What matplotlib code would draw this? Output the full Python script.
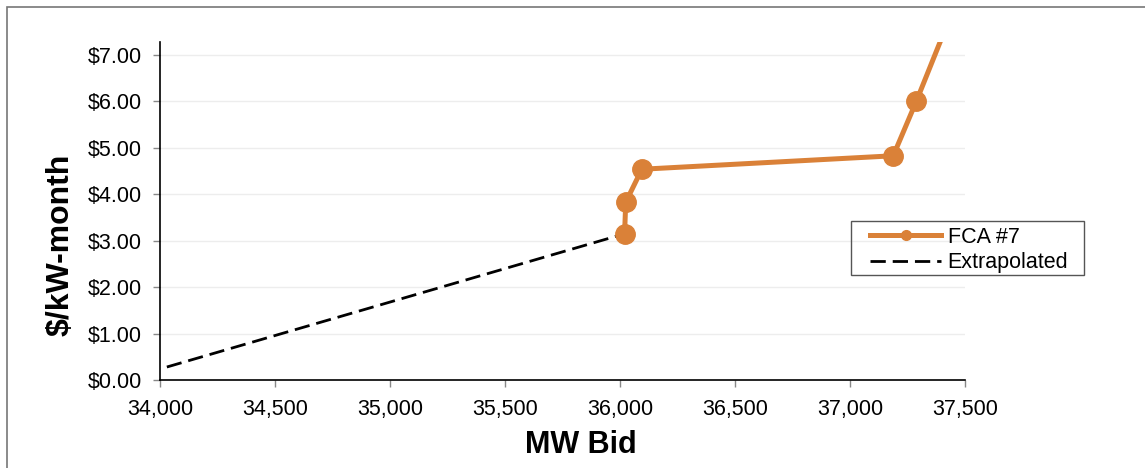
import numpy as np
import matplotlib.pyplot as plt
from matplotlib.patches import Rectangle
from matplotlib.ticker import FuncFormatter

plt.rcParams['font.family'] = ['Liberation Sans', 'DejaVu Sans']

# FCA #7 bid curve (MW, $/kW-month); last point runs past the top of the axis
fca_mw = [36020, 36025, 36095, 37188, 37288, 37450]
fca_price = [3.15, 3.83, 4.54, 4.83, 6.00, 8.00]

# extrapolated segment
ext_mw = [34030, 36020]
ext_price = [0.28, 3.15]

orange = '#DA8138'
W, H = 1145, 468

fig = plt.figure(figsize=(W / 100, H / 100), dpi=100)
ax = fig.add_axes([0.1397, 0.188, 0.7031, 0.7222])

ax.plot(ext_mw, ext_price, color='black', linestyle=(0, (5.5, 2.5)), linewidth=2,
        label='Extrapolated', zorder=3)
ax.plot(fca_mw, fca_price, color=orange, linewidth=3.6, marker='o', markersize=14,
        label='FCA #7', zorder=4)

ax.set_xlim(34000, 37500)
ax.set_ylim(0, 7.28)
ax.set_xticks(np.arange(34000, 37501, 500))
ax.set_yticks(np.arange(0, 8, 1))
ax.xaxis.set_major_formatter(FuncFormatter(lambda v, p: f'{v:,.0f}'))
ax.yaxis.set_major_formatter(FuncFormatter(lambda v, p: f'${v:.2f}'))
ax.tick_params(labelsize=15.5, length=5, width=1, color='#888888')
ax.tick_params(axis='y', pad=8)
ax.tick_params(axis='x', pad=9)
ax.grid(axis='y', color='#ededed', linewidth=1)
ax.set_axisbelow(True)
for s in ['top', 'right']:
    ax.spines[s].set_visible(False)
for s in ['left', 'bottom']:
    ax.spines[s].set_color('black')
    ax.spines[s].set_linewidth(1.2)

ax.set_xlabel('MW Bid', fontsize=22, fontweight='bold', va='center')
ax.xaxis.set_label_coords(0.523, -0.192)
ax.set_ylabel('$/kW-month', fontsize=23, fontweight='bold', va='center')
ax.yaxis.set_label_coords(-0.124, 0.40)

# legend entries without frame, box drawn separately
h, l = ax.get_legend_handles_labels()
leg = fig.legend(h[::-1], l[::-1], loc='upper left',
                 bbox_to_anchor=(870 / W, 1 - 227 / H), borderaxespad=0,
                 fontsize=15.5, frameon=False, borderpad=0, handlelength=3.3,
                 labelspacing=0.2, handletextpad=0.3, markerscale=0.5)
fig.add_artist(Rectangle((851 / W, 1 - 275 / H), 233 / W, 54 / H,
                         transform=fig.transFigure, fill=False,
                         edgecolor='#555555', linewidth=1))

# outer chart border
fig.add_artist(Rectangle((7 / W, -0.1), 1.2, 1 - 7 / H + 0.1,
                         transform=fig.transFigure, fill=False,
                         edgecolor='#777777', linewidth=1.2))

fig.savefig('out.png', dpi=100)
